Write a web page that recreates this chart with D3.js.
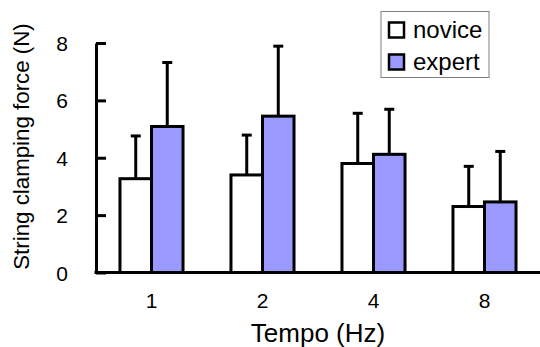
<!DOCTYPE html>
<html>
<head>
<meta charset="utf-8">
<script src="https://cdn.jsdelivr.net/npm/d3@7"></script>
<style>
  html, body { margin: 0; padding: 0; background: #fff; }
  svg text { font-family: "Liberation Sans", Arial, sans-serif; fill: #000; }
</style>
</head>
<body>
<div id="chart"><svg></svg></div>
<script>
const width = 540;
const height = 347;

// data
const tempos = ['1', '2', '4', '8'];
const groups = ['novice', 'expert'];
const noviceMean = [3.27, 3.40, 3.80, 2.30];
const noviceSd = [1.49, 1.39, 1.75, 1.40];
const expertMean = [5.09, 5.45, 4.12, 2.46];
const expertSd = [2.23, 2.44, 1.57, 1.76];
const yTicks = [0, 2, 4, 6, 8];

const colors = { novice: '#ffffff', expert: '#9999ff' };

const svg = d3.select('#chart').select('svg')
    .attr('width', width)
    .attr('height', height);

const margin = { left: 96, right: 0, top: 43, bottom: 75 };
const baseY = height - margin.bottom + 0.5;

const x = d3.scaleBand()
    .domain(tempos)
    .range([margin.left, width])
    .paddingInner(0.432)
    .paddingOuter(0.216);

const xSub = d3.scaleBand()
    .domain(groups)
    .range([0, x.bandwidth()]);

const y = d3.scaleLinear()
    .domain([0, 8])
    .range([baseY, margin.top]);

const rows = [];
tempos.forEach(function(t, i) {
    rows.push({ tempo: t, group: 'novice', mean: noviceMean[i], sd: noviceSd[i] });
    rows.push({ tempo: t, group: 'expert', mean: expertMean[i], sd: expertSd[i] });
});

const g = svg.append('g');

// error bars (drawn first, bar covers the lower half)
const err = g.selectAll('g.err')
    .data(rows)
    .join('g')
    .attr('class', 'err');

err.append('line')
    .attr('x1', d => x(d.tempo) + xSub(d.group) + xSub.bandwidth() / 2)
    .attr('x2', d => x(d.tempo) + xSub(d.group) + xSub.bandwidth() / 2)
    .attr('y1', d => y(d.mean))
    .attr('y2', d => y(d.mean + d.sd))
    .attr('stroke', '#000')
    .attr('stroke-width', 3);

err.append('line')
    .attr('x1', d => x(d.tempo) + xSub(d.group) + xSub.bandwidth() / 2 - 5)
    .attr('x2', d => x(d.tempo) + xSub(d.group) + xSub.bandwidth() / 2 + 5)
    .attr('y1', d => y(d.mean + d.sd))
    .attr('y2', d => y(d.mean + d.sd))
    .attr('stroke', '#000')
    .attr('stroke-width', 3);

g.selectAll('rect.bar')
    .data(rows)
    .join('rect')
    .attr('class', 'bar')
    .attr('x', d => x(d.tempo) + xSub(d.group))
    .attr('y', d => y(d.mean))
    .attr('width', xSub.bandwidth())
    .attr('height', d => y(0) - y(d.mean))
    .attr('fill', d => colors[d.group])
    .attr('stroke', '#000')
    .attr('stroke-width', 3);

// y axis with inward ticks
const yAxis = d3.axisLeft(y)
    .tickValues(yTicks)
    .tickSize(-10)
    .tickPadding(34)
    .tickSizeOuter(0);

const ya = svg.append('g')
    .attr('transform', 'translate(' + margin.left + ',0)')
    .call(yAxis);
ya.select('.domain').attr('stroke-width', 3);
ya.selectAll('.tick line').attr('stroke-width', 3);
ya.selectAll('.tick text')
    .style('font-size', '21px')
    .attr('text-anchor', 'middle')
    .attr('dy', '0.36em');

// x axis
const xAxis = d3.axisBottom(x)
    .tickSize(0)
    .tickPadding(21)
    .tickSizeOuter(0);

const xa = svg.append('g')
    .attr('transform', 'translate(0,' + baseY + ')')
    .call(xAxis);
xa.select('.domain').attr('stroke-width', 3).attr('d', 'M' + (margin.left - 1.5) + ',0H' + width);
xa.selectAll('.tick text').style('font-size', '21px');

svg.selectAll('.domain, .tick line').attr('stroke', '#000');

// axis titles
svg.append('text')
    .attr('x', 318)
    .attr('y', 342)
    .attr('text-anchor', 'middle')
    .style('font-size', '26px')
    .text('Tempo (Hz)');

svg.append('text')
    .attr('transform', 'translate(28.5,146.5) rotate(-90)')
    .attr('text-anchor', 'middle')
    .style('font-size', '22.3px')
    .text('String clamping force (N)');

// legend
const legend = svg.append('g');
legend.append('rect')
    .attr('x', 381).attr('y', 11.5)
    .attr('width', 108).attr('height', 66)
    .attr('fill', '#fff')
    .attr('stroke', '#808080')
    .attr('stroke-width', 1);

const items = legend.selectAll('g.item')
    .data(groups)
    .join('g')
    .attr('class', 'item')
    .attr('transform', (d, i) => 'translate(389,' + (22.5 + i * 32) + ')');

items.append('rect')
    .attr('width', 15).attr('height', 15)
    .attr('fill', d => colors[d])
    .attr('stroke', '#000')
    .attr('stroke-width', 2.5);

items.append('text')
    .attr('x', 24)
    .attr('y', 15)
    .style('font-size', '24px')
    .text(d => d);
</script>
</body>
</html>
